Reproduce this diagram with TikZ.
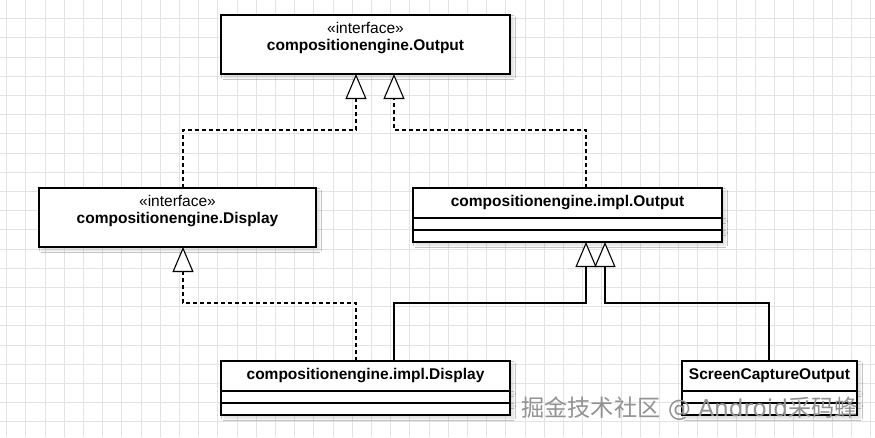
\documentclass[tikz,border=0pt]{standalone}
\usepackage{fontspec}
\setmainfont{Liberation Sans}
\newfontfamily\cjkfont{Noto Sans CJK SC}
\newfontfamily\markfont{DejaVu Sans}
\usepackage{tikz}
\definecolor{grille}{HTML}{E3E3E3}
\definecolor{marque}{HTML}{929292}
\usetikzlibrary{positioning,arrows.meta,shadows.blur}

\begin{document}
\begin{tikzpicture}[x=1pt,y=-1pt,
  box/.style={rectangle,draw=black,line width=1.1pt,fill=white,
    outer sep=0pt,inner sep=0pt,
    blur shadow={shadow xshift=3pt,shadow yshift=-3pt,
      shadow opacity=15,shadow blur radius=2.5pt}},
  iface/.style={box,minimum height=59pt,align=center,
    font=\fontsize{15.5}{17.7}\selectfont},
  classhead/.style={box,minimum height=30pt,
    font=\fontsize{15.5}{17.7}\selectfont\bfseries},
  classpart/.style={box,minimum height=12pt},
  gridline/.style={grille,line width=1pt},
  realize/.style={line width=1.1pt,dash pattern=on 4pt off 3pt,
    -{Triangle[width=21pt,length=25pt,fill=white]}},
  inherit/.style={line width=1.1pt,
    -{Triangle[width=21pt,length=25pt,fill=white]}}]

  \useasboundingbox[fill=white] (0,0) rectangle (875,437);

  % grid
  \foreach \gx in {0,...,45}
    \draw[gridline] (6.7+19.2*\gx,0) -- (6.7+19.2*\gx,437);
  \foreach \gy in {0,...,22}
    \draw[gridline] (0,-0.5+19.2*\gy) -- (875,-0.5+19.2*\gy);

  % interfaces
  \node[iface,minimum width=289pt] at (365.5,44.5) (out)
    {«interface»\\\textbf{compositionengine.Output}\rule[-16.5pt]{0pt}{0pt}};
  \node[iface,minimum width=277pt] at (177.5,217.5) (disp)
    {«interface»\\\textbf{compositionengine.Display}\rule[-16.5pt]{0pt}{0pt}};

  % classes
  \node[classhead,minimum width=309pt] at (567.5,203) (implout)
    {compositionengine.impl.Output};
  \node[classpart,minimum width=309pt,below=0pt of implout] (imploutA) {};
  \node[classpart,minimum width=309pt,below=0pt of imploutA] (imploutB) {};

  \node[classhead,minimum width=289pt] at (365.5,376) (impldisp)
    {compositionengine.impl.Display};
  \node[classpart,minimum width=289pt,below=0pt of impldisp] (impldispA) {};
  \node[classpart,minimum width=289pt,below=0pt of impldispA] (impldispB) {};

  \node[classhead,minimum width=175pt] at (769.5,376) (scrcap)
    {ScreenCaptureOutput};
  \node[classpart,minimum width=175pt,below=0pt of scrcap] (scrcapA) {};
  \node[classpart,minimum width=175pt,below=0pt of scrcapA] (scrcapB) {};

  % connectors
  \draw[realize] ([xshift=5.5pt]disp.north) -- ++(0,-58) -| ([xshift=-9.5pt]out.south);
  \draw[realize] ([xshift=18.5pt]implout.north) -- ++(0,-58) -| ([xshift=28.5pt]out.south);
  \draw[realize] ([xshift=-9.5pt]impldisp.north) -- ++(0,-58) -| ([xshift=5.5pt]disp.south);
  \draw[inherit] ([xshift=28.5pt]impldisp.north) -- ++(0,-58) -| ([xshift=18.5pt]imploutB.south);
  \draw[inherit] ([xshift=-0.5pt]scrcap.north) -- ++(0,-58) -| ([xshift=37.5pt]imploutB.south);

  % watermark
  \node[font=\cjkfont\fontsize{23.2}{23.2}\selectfont,text=marque,
    anchor=base west,inner sep=0pt] at (521,416.5) (mark)
    {掘金技术社区{\markfont\ @\ Android}采码蜂};

\end{tikzpicture}
\end{document}
